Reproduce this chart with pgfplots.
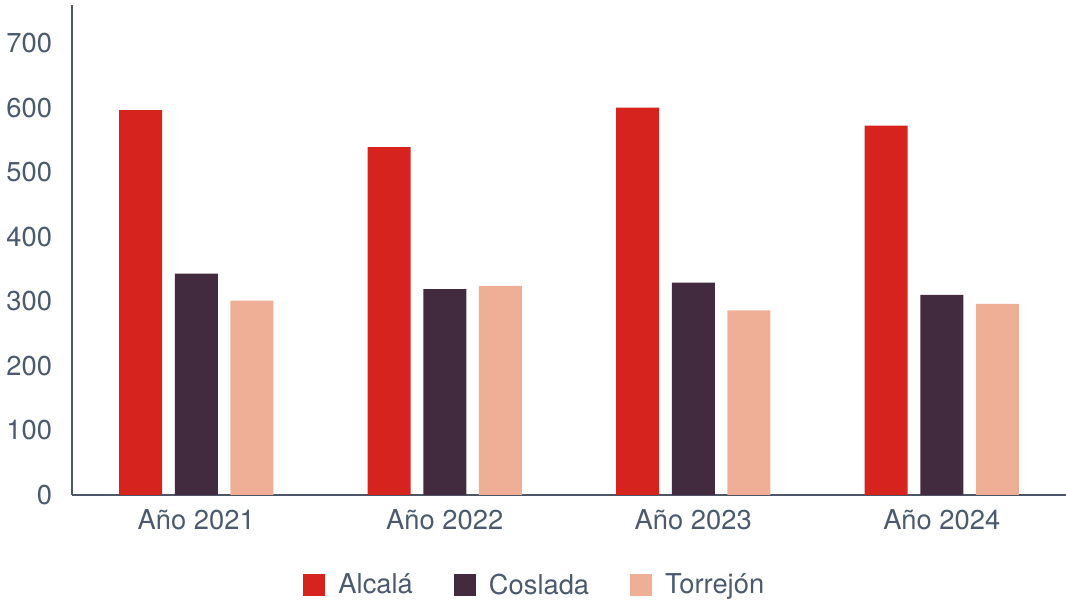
\documentclass[border=0pt]{standalone}
\usepackage{fontspec}
\setmainfont{TeX Gyre Heros}
\usepackage{pgfplots}
\pgfplotsset{compat=1.18}
\definecolor{alc}{HTML}{D6231E}
\definecolor{cos}{HTML}{432B3F}
\definecolor{tor}{HTML}{EFAF97}
\definecolor{txt}{HTML}{4B5A6E}
\definecolor{axc}{HTML}{4D5566}
\begin{document}
\begin{tikzpicture}
\begin{axis}[
  name=ax, at={(0,0)}, anchor=south west,
  scale only axis, width=745.5pt, height=367.5pt,
  ybar=9.4pt, bar width=32.25pt,
  xmin=-0.5, xmax=3.5, ymin=0, ymax=759,
  enlargelimits=false,
  axis x line=bottom, axis y line=left,
  axis line style={-, draw=axc, line width=0.9pt},
  major tick length=0pt,
  xtick={0,1,2,3},
  xticklabels={Año 2021, Año 2022, Año 2023, Año 2024},
  ytick={0,100,200,300,400,500,600,700},
  /pgf/number format/assume math mode=true,
  tick label style={font=\fontsize{20.5pt}{24pt}\selectfont, text=txt},
  yticklabel style={xshift=-11.5pt},
  xticklabel style={yshift=-7.5pt},
  legend style={at={(0.4658,-0.1837)}, anchor=center, legend columns=3, draw=none,
    font=\fontsize{20.5pt}{24pt}\selectfont, text=txt,
    /tikz/every odd column/.append style={column sep=8pt},
    /tikz/every even column/.append style={column sep=28.5pt}},
  legend image code/.code={\fill[#1] (0pt,-8.25pt) rectangle (16.5pt,8.25pt);},
]
\addplot[fill=alc, draw=none] coordinates {(0,596) (1,539) (2,600) (3,572)};
\addplot[fill=cos, draw=none] coordinates {(0,343) (1,319) (2,329) (3,310)};
\addplot[fill=tor, draw=none] coordinates {(0,301) (1,324) (2,286) (3,296)};
\legend{Alcalá, Coslada, Torrejón}
\end{axis}
\pgfresetboundingbox
\path[use as bounding box] (-54pt,371.25pt) rectangle (745.5pt,-82.5pt);
\end{tikzpicture}
\end{document}
